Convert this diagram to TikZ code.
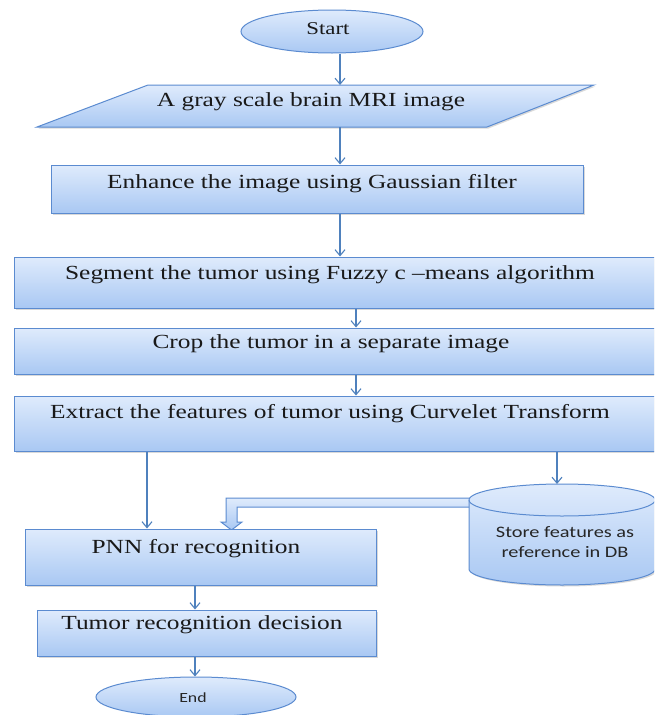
\documentclass[tikz,border=0pt]{standalone}
\usepackage{fontspec}
\setmainfont{Liberation Serif}[FakeStretch=1.27]
\newfontfamily\calib{Carlito}[FakeStretch=1.27]
\usetikzlibrary{arrows.meta,shapes.geometric,shadows}
\definecolor{bdr}{HTML}{5B8BD0}
\definecolor{ftop}{HTML}{DFEBFC}
\definecolor{fbot}{HTML}{A9C8F3}
\definecolor{lnc}{HTML}{4F81BD}
\tikzset{
  shd/.style={drop shadow={shadow xshift=1.5pt,shadow yshift=-1.5pt,opacity=0.25,fill=black!60}},
  box/.style={draw=bdr,line width=1pt,top color=ftop,bottom color=fbot,inner sep=0pt,shd},
  oval/.style={ellipse,draw=bdr,line width=1pt,top color=ftop,bottom color=fbot,inner sep=0pt},
  txt/.style={font=\fontsize{20}{24}\selectfont,inner sep=0pt,anchor=base,text=black!90},
  stxt/.style={font=\calib\fontsize{16}{20}\selectfont,inner sep=0pt,anchor=base,text=black!85},
  arr/.style={draw=lnc,line width=1.1pt,-{Straight Barb[length=6pt,width=10pt]}},
}
\begin{document}
\begin{tikzpicture}[x=1pt,y=-1pt]
\useasboundingbox (0,0) rectangle (654,715);
\clip (0,0) rectangle (654,715);
% columns of connectors
\coordinate (c1) at (340,0);
\coordinate (c2) at (356,0);
\coordinate (c3) at (147,0);
\coordinate (c4) at (557,0);
\coordinate (c5) at (195,0);
% start
\node[oval,minimum width=182pt,minimum height=43pt] (start) at (332,31.5) {};
\node[txt,font=\fontsize{18}{22}\selectfont] (tstart) at (328,34) {Start};
% input parallelogram
\coordinate (pgtop) at (340,85);
\coordinate (pgbot) at (340,127);
\path[box] (148,85) -- (594,85) -- (487,127) -- (37,127) -- cycle;
\node[txt] (tin) at (311,106) {A gray scale brain MRI image};
% process boxes
\node[box,minimum width=532pt,minimum height=48pt] (enh) at (317,189) {};
\node[txt] (tenh) at (312,188) {Enhance the image using Gaussian filter};
\node[box,minimum width=685.4pt,minimum height=51pt] (seg) at (357.3,282.5) {};
\node[txt] (tseg) at (330,279) {Segment the tumor using Fuzzy c \textendash means algorithm};
\node[box,minimum width=685.4pt,minimum height=46pt] (crop) at (357.3,351) {};
\node[txt] (tcrop) at (331,348) {Crop the tumor in a separate image};
\node[box,minimum width=685.4pt,minimum height=55pt] (ext) at (357.3,423.5) {};
\node[txt] (text) at (330,418) {Extract the features of tumor using Curvelet Transform};
% hollow arrow from DB to PNN
\path[draw=bdr,line width=1pt,top color=ftop,bottom color=fbot]
  (476,498) -- (226,498) -- (226,522) -- (221,522) -- (231.5,530) -- (242,522)
  -- (237,522) -- (237,507) -- (476,507) -- cycle;
% database cylinder
\path[draw=bdr,line width=1pt,top color=ftop,bottom color=fbot,shd]
  (469,500) -- (469,569) arc[start angle=180,end angle=360,x radius=93pt,y radius=16pt]
  -- (655,500) arc[start angle=0,end angle=180,x radius=93pt,y radius=16pt] -- cycle;
\draw[bdr,line width=1pt] (469,500) arc[start angle=180,end angle=360,x radius=93pt,y radius=16pt];
\coordinate (dbtop) at (557,484);
\node[stxt] (db1) at (565,537) {Store features as};
\node[stxt] (db2) at (565,557) {reference in DB};
% recognition
\node[box,minimum width=351pt,minimum height=56pt] (pnn) at (200.5,557) {};
\node[txt] (tpnn) at (196,553) {PNN for recognition};
\node[box,minimum width=339pt,minimum height=46pt] (dec) at (206.5,633) {};
\node[txt] (tdec) at (202,629) {Tumor recognition decision};
\node[oval,minimum width=200pt,minimum height=40pt] (end) at (196,697) {};
\node[stxt,font=\calib\fontsize{14}{18}\selectfont] (tend) at (193,702) {End};
% connectors
\draw[arr] (start.south -| c1) -- (pgtop);
\draw[arr] (pgbot) -- (enh.north -| c1);
\draw[arr] (enh.south -| c1) -- (seg.north -| c1);
\draw[arr] (seg.south -| c2) -- (crop.north -| c2);
\draw[arr] (crop.south -| c2) -- (ext.north -| c2);
\draw[arr] (ext.south -| c3) -- (pnn.north -| c3);
\draw[arr] (ext.south -| c4) -- (dbtop);
\draw[arr] (pnn.south -| c5) -- (dec.north -| c5);
\draw[arr] (dec.south -| c5) -- (end.north -| c5);
\end{tikzpicture}
\end{document}
